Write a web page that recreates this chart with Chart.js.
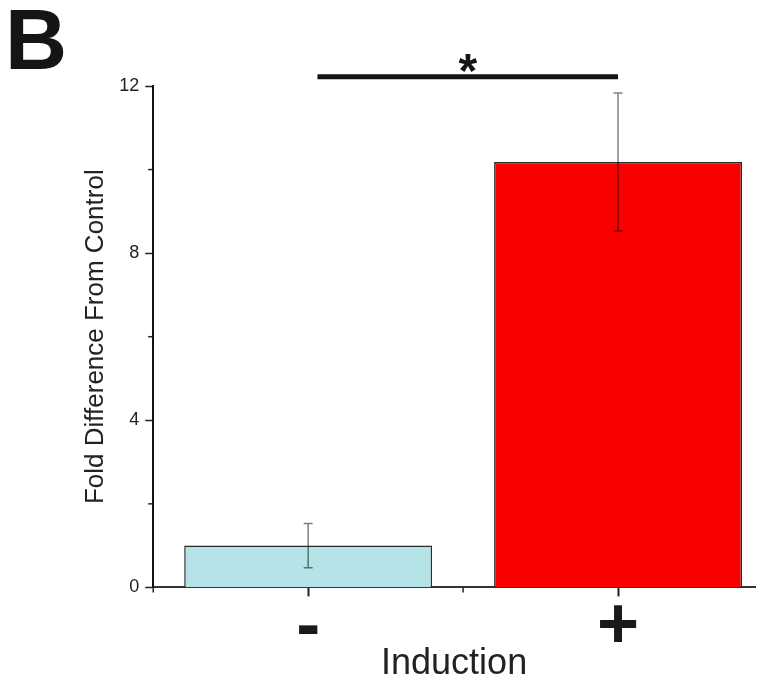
<!DOCTYPE html>
<html>
<head>
<meta charset="utf-8">
<script src="https://cdn.jsdelivr.net/npm/chart.js@4/dist/chart.umd.min.js"></script>
<style>
  html, body { margin: 0; padding: 0; background: #fff; }
  #wrap { width: 771px; height: 686px; }
</style>
</head>
<body>
<div id="wrap"><canvas id="chart"></canvas></div>
<script>
const categories = ['-', '+']
const xPositions = [1, 2]
const foldValues = [1.0, 10.18]
const foldErrors = [0.53, 1.65]
const barColors = ['#b4e3e8', '#fb0000']
const yTicks = [0, 4, 8, 12]
const yMinorTicks = [2, 6, 10]
const xMinorTicks = [0.5, 1.5]
// significance bracket between the two groups
const sigFrom = 1.03
const sigTo = 2.0
const sigLevel = 12.22
const sigLabel = '*'
const panelLabel = 'B'

const FONT = "'Liberation Sans', Arial, sans-serif"

const extrasPlugin = {
  id: 'extras',
  afterDatasetsDraw(chart) {
    const ctx = chart.ctx
    const x = chart.scales.x
    const y = chart.scales.y
    ctx.save()

    // error bars
    ctx.strokeStyle = 'rgba(0,0,0,0.5)'
    ctx.lineWidth = 1.5
    foldValues.forEach((v, i) => {
      const px = x.getPixelForValue(xPositions[i])
      const top = y.getPixelForValue(v + foldErrors[i])
      const bot = y.getPixelForValue(v - foldErrors[i])
      ctx.beginPath()
      ctx.moveTo(px, top); ctx.lineTo(px, bot)
      ctx.moveTo(px - 4.5, top); ctx.lineTo(px + 4.5, top)
      ctx.moveTo(px - 4.5, bot); ctx.lineTo(px + 4.5, bot)
      ctx.stroke()
    })

    // minor ticks
    ctx.strokeStyle = '#222'
    ctx.lineWidth = 1.5
    yMinorTicks.forEach(t => {
      const py = y.getPixelForValue(t)
      ctx.beginPath()
      ctx.moveTo(chart.chartArea.left - 5, py)
      ctx.lineTo(chart.chartArea.left, py)
      ctx.stroke()
    })
    xMinorTicks.forEach(t => {
      const px = x.getPixelForValue(t)
      ctx.beginPath()
      ctx.moveTo(px, chart.chartArea.bottom)
      ctx.lineTo(px, chart.chartArea.bottom + 5)
      ctx.stroke()
    })

    // significance bar + star
    const sy = y.getPixelForValue(sigLevel)
    const x1 = x.getPixelForValue(sigFrom)
    const x2 = x.getPixelForValue(sigTo)
    ctx.strokeStyle = '#151515'
    ctx.lineWidth = 5
    ctx.beginPath()
    ctx.moveTo(x1, sy); ctx.lineTo(x2, sy)
    ctx.stroke()
    ctx.fillStyle = '#151515'
    ctx.font = 'bold 48px ' + FONT
    ctx.textAlign = 'center'
    ctx.textBaseline = 'alphabetic'
    ctx.fillText(sigLabel, (x1 + x2) / 2, sy + 10)

    // panel letter
    ctx.textAlign = 'left'
    ctx.font = 'bold 86px ' + FONT
    ctx.fillText(panelLabel, 5, 69)
    ctx.restore()
  }
}

new Chart(document.getElementById('chart'), {
  type: 'bar',
  data: {
    datasets: [{
      data: foldValues.map((v, i) => ({x: xPositions[i], y: v})),
      backgroundColor: barColors,
      borderColor: '#2a2a2a',
      borderWidth: 1.5,
      categoryPercentage: 1,
      barPercentage: 0.8
    }]
  },
  options: {
    responsive: true,
    maintainAspectRatio: false,
    animation: false,
    layout: {padding: {top: 86, right: 16, left: 80, bottom: 0}},
    plugins: {legend: {display: false}, tooltip: {enabled: false}},
    scales: {
      x: {
        type: 'linear',
        min: 0.5,
        max: 2.442,
        offset: false,
        border: {color: '#333', width: 2},
        grid: {offset: false, drawOnChartArea: false, tickLength: 9, tickWidth: 2, tickColor: '#222'},
        ticks: {
          stepSize: 1,
          includeBounds: false,
          color: '#1a1a1a',
          font: {family: FONT, size: 72, weight: 'bold'},
          padding: -11,
          callback: v => categories[xPositions.indexOf(v)] ?? ''
        },
        title: {
          display: true,
          text: 'Induction',
          color: '#222',
          font: {family: FONT, size: 36},
          padding: {top: -18, bottom: 0}
        }
      },
      y: {
        min: 0,
        max: 12,
        border: {color: '#111', width: 2},
        grid: {drawOnChartArea: false, tickLength: 8, tickWidth: 1.5, tickColor: '#222'},
        afterBuildTicks: s => { s.ticks = yTicks.map(v => ({value: v})) },
        ticks: {
          color: '#222',
          font: {family: FONT, size: 18},
          padding: 6
        },
        title: {
          display: true,
          text: 'Fold Difference From Control',
          color: '#222',
          font: {family: FONT, size: 26},
          padding: {top: 0, bottom: 2}
        }
      }
    }
  },
  plugins: [extrasPlugin]
})
</script>
</body>
</html>
